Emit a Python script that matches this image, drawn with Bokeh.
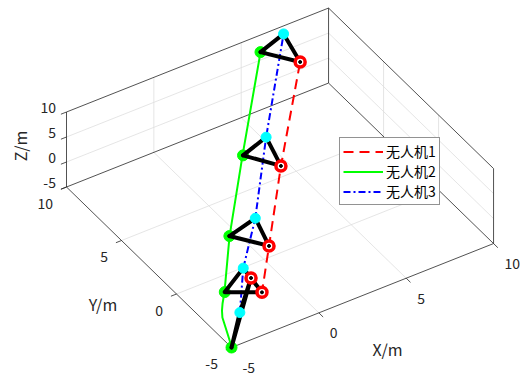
import numpy as np
from bokeh.plotting import figure
from bokeh.models import Range1d, Legend, LegendItem, ColumnDataSource
from bokeh.core.properties import value
from bokeh.embed import file_html
from bokeh.resources import INLINE

# ---------------- data (metres) ----------------
x_lim = (-5, 10)
y_lim = (-5, 10)
z_lim = (-5, 10)
tick_values = [-5, 0, 5, 10]
tick_labels = ["-5", "0", "5", "10"]
grid_values = [0, 5]

# formation snapshots: positions of the three UAVs at five instants
uav1_x = [-1.3, -2.5, -0.9, 2.3, 6.8]
uav1_y = [-0.9, -3.8, -1.9, 2.1, 7.5]
uav1_z = [-5.0, 0.0, 3.0, 6.0, 9.0]

uav2_x = [-5.0, -4.0, -2.1, 1.2, 5.6]
uav2_y = [-5.0, -2.8, -0.2, 3.8, 9.2]
uav2_z = [-5.0, 0.0, 3.0, 6.0, 9.0]

uav3_x = [-3.2, -2.25, -0.3, 2.9, 7.3]
uav3_y = [-2.9, -1.7, 0.3, 4.4, 9.8]
uav3_z = [-5.0, 0.0, 3.0, 6.0, 9.0]

# flown trajectories
path1_x = [-1.3, -2.5, -0.9, 2.3, 6.8]
path1_y = [-0.9, -3.8, -1.9, 2.1, 7.5]
path1_z = [-5.0, 0.0, 3.0, 6.0, 9.0]

path2_x = [-5.0, -4.92, -4.84, -4.69, -4.55, -4.36, -4.20, -4.03, -2.11, 1.17, 5.58]
path2_y = [-5.0, -4.72, -4.38, -3.68, -3.42, -3.17, -3.00, -2.82, -0.23, 3.80, 9.17]
path2_z = [-5.0, -4.4, -3.75, -2.25, -1.6, -1.0, -0.5, 0.0, 3.0, 6.0, 9.0]

path3_x = [-3.2, -2.25, -0.3, 2.9, 7.3]
path3_y = [-2.9, -1.7, 0.3, 4.4, 9.8]
path3_z = [-5.0, 0.0, 3.0, 6.0, 9.0]

series_names = ["无人机1", "无人机2", "无人机3"]
axis_titles = ["X/m", "Y/m", "Z/m"]

# ---------------- view (orthographic projection onto the canvas) ----------------
W, H = 523, 377
CORNER = (231.0, 30.0)          # canvas position of (xmin, ymin, zmin)
EX = (17.47, 6.93)              # canvas step per metre along X
EY = (-11.0, 10.7)              # canvas step per metre along Y
EZ = (0.0, 5.0)                 # canvas step per metre along Z


def project(x, y, z):
    x = np.asarray(x, float) - x_lim[0]
    y = np.asarray(y, float) - y_lim[0]
    z = np.asarray(z, float) - z_lim[0]
    px = CORNER[0] + x * EX[0] + y * EY[0] + z * EZ[0]
    py = CORNER[1] + x * EX[1] + y * EY[1] + z * EZ[1]
    return px, py


def segment(p0, p1):
    a = project(*p0)
    b = project(*p1)
    return [float(a[0]), float(b[0])], [float(a[1]), float(b[1])]


FONT = "Noto Sans CJK SC"
TXT = "#262626"

p = figure(width=W, height=H, output_backend="svg", toolbar_location=None,
           x_range=Range1d(0, W), y_range=Range1d(0, H),
           min_border=0, outline_line_color=None, background_fill_color="white")
p.axis.visible = False
p.grid.visible = False

x0, x1 = x_lim
y0, y1 = y_lim
z0, z1 = z_lim

# ---- grid on the three back planes ----
gxs, gys = [], []
for g in grid_values:
    for a, b in [((g, y0, z0), (g, y1, z0)),   # floor, along Y
                 ((x0, g, z0), (x1, g, z0)),   # floor, along X
                 ((x1, g, z0), (x1, g, z1)),   # wall x = xmax
                 ((x1, y0, g), (x1, y1, g)),
                 ((g, y1, z0), (g, y1, z1)),   # wall y = ymax
                 ((x0, y1, g), (x1, y1, g))]:
        sx, sy = segment(a, b)
        gxs.append(sx)
        gys.append(sy)
p.multi_line(gxs, gys, line_color="#dedede", line_width=0.8)

# ---- box edges of the back planes ----
edges = [((x0, y0, z0), (x1, y0, z0)), ((x0, y0, z0), (x0, y1, z0)),
         ((x1, y0, z0), (x1, y1, z0)), ((x0, y1, z0), (x1, y1, z0)),
         ((x1, y0, z1), (x1, y1, z1)), ((x0, y1, z1), (x1, y1, z1)),
         ((x1, y0, z0), (x1, y0, z1)), ((x1, y1, z0), (x1, y1, z1)),
         ((x0, y1, z0), (x0, y1, z1))]
exs, eys = [], []
for a, b in edges:
    sx, sy = segment(a, b)
    exs.append(sx)
    eys.append(sy)
p.multi_line(exs, eys, line_color="#262626", line_width=0.8)

# ---- ticks and tick labels ----
TL = 6.0
nx = np.array([-EY[0], -EY[1]]); nx = nx / np.linalg.norm(nx) * TL
ny = np.array([-EX[0], -EX[1]]); ny = ny / np.linalg.norm(ny) * TL

tx, ty = [], []
xt = dict(x=[], y=[], t=[])
yt = dict(x=[], y=[], t=[])
zt = dict(x=[], y=[], t=[])
for v, lab in zip(tick_values, tick_labels):
    bx, by = project(v, y0, z0)
    tx.append([float(bx), float(bx + nx[0])]); ty.append([float(by), float(by + nx[1])])
    xt["x"].append(float(bx) + 11); xt["y"].append(float(by) - 20); xt["t"].append(lab)

    bx, by = project(x0, v, z0)
    tx.append([float(bx), float(bx + ny[0])]); ty.append([float(by), float(by + ny[1])])
    yt["x"].append(float(bx) - 13.5); yt["y"].append(float(by) - 16); yt["t"].append(lab)

    bx, by = project(x0, y1, v)
    tx.append([float(bx), float(bx + ny[0])]); ty.append([float(by), float(by + ny[1])])
    zt["x"].append(float(bx) - 10.5); zt["y"].append(float(by) + 4.5); zt["t"].append(lab)
p.multi_line(tx, ty, line_color="#262626", line_width=0.8)

common = dict(text_font=value(FONT), text_font_size="14px", text_color=TXT,
              text_baseline="middle")
p.text("x", "y", text="t", source=ColumnDataSource(xt), text_align="left", **common)
p.text("x", "y", text="t", source=ColumnDataSource(yt), text_align="right", **common)
p.text("x", "y", text="t", source=ColumnDataSource(zt), text_align="right", **common)

# axis titles
title_style = dict(text_align="center", text_font=value(FONT), text_font_size="16px",
                   text_color=TXT, text_baseline="middle")
mx, my = project((x0 + x1) / 2, y0, z0)
p.text([float(mx) + 25], [float(my) - 53], text=[axis_titles[0]], **title_style)
mx, my = project(x0, (y0 + y1) / 2, z0)
p.text([float(mx) - 46], [float(my) - 36.5], text=[axis_titles[1]], **title_style)
mx, my = project(x0, y1, (z0 + z1) / 2)
p.text([float(mx) - 47], [float(my) + 3.5], text=[axis_titles[2]], angle=np.pi / 2,
       **title_style)

# ---- trajectories ----
r1x, r1y = project(path1_x, path1_y, path1_z)
r2x, r2y = project(path2_x, path2_y, path2_z)
r3x, r3y = project(path3_x, path3_y, path3_z)
l1 = p.line(r1x, r1y, line_color="#ff0000", line_width=2, line_dash="10 6")
l2 = p.line(r2x, r2y, line_color="#00ff00", line_width=2, line_join="round")
l3 = p.line(r3x, r3y, line_color="#0000ff", line_width=2, line_dash="7 3 2 3")

# ---- formation snapshots ----
a1x, a1y = project(uav1_x, uav1_y, uav1_z)
a2x, a2y = project(uav2_x, uav2_y, uav2_z)
a3x, a3y = project(uav3_x, uav3_y, uav3_z)

p.scatter(a2x, a2y, size=11, fill_color="#00ff00", line_color="#00ff00")

txs = [[float(a2x[i]), float(a3x[i]), float(a1x[i]), float(a2x[i])] for i in range(len(uav1_x))]
tys = [[float(a2y[i]), float(a3y[i]), float(a1y[i]), float(a2y[i])] for i in range(len(uav1_x))]
p.multi_line(txs, tys, line_color="black", line_width=4, line_join="round", line_cap="round")

p.scatter(a3x, a3y, size=10, fill_color="#00ffff", line_color="#00ffff")
p.scatter(a1x, a1y, size=10, fill_color="white", line_color="#ff0000", line_width=3.5)
p.scatter(np.concatenate([a1x, a2x]), np.concatenate([a1y, a2y]), size=3,
          fill_color="black", line_color="black")

# ---- legend ----
legend = Legend(items=[LegendItem(label=series_names[0], renderers=[l1]),
                       LegendItem(label=series_names[1], renderers=[l2]),
                       LegendItem(label=series_names[2], renderers=[l3])],
                location=(339, 172), orientation="vertical",
                label_text_font=FONT, label_text_font_size="14px", label_text_color="black",
                glyph_width=40, glyph_height=19, label_height=19, label_standoff=3,
                padding=3, spacing=0, margin=0,
                border_line_color="#262626", border_line_width=0.8,
                background_fill_color="white", background_fill_alpha=1.0)
p.add_layout(legend, "center")

open("out.html", "w").write(file_html(p, INLINE))
